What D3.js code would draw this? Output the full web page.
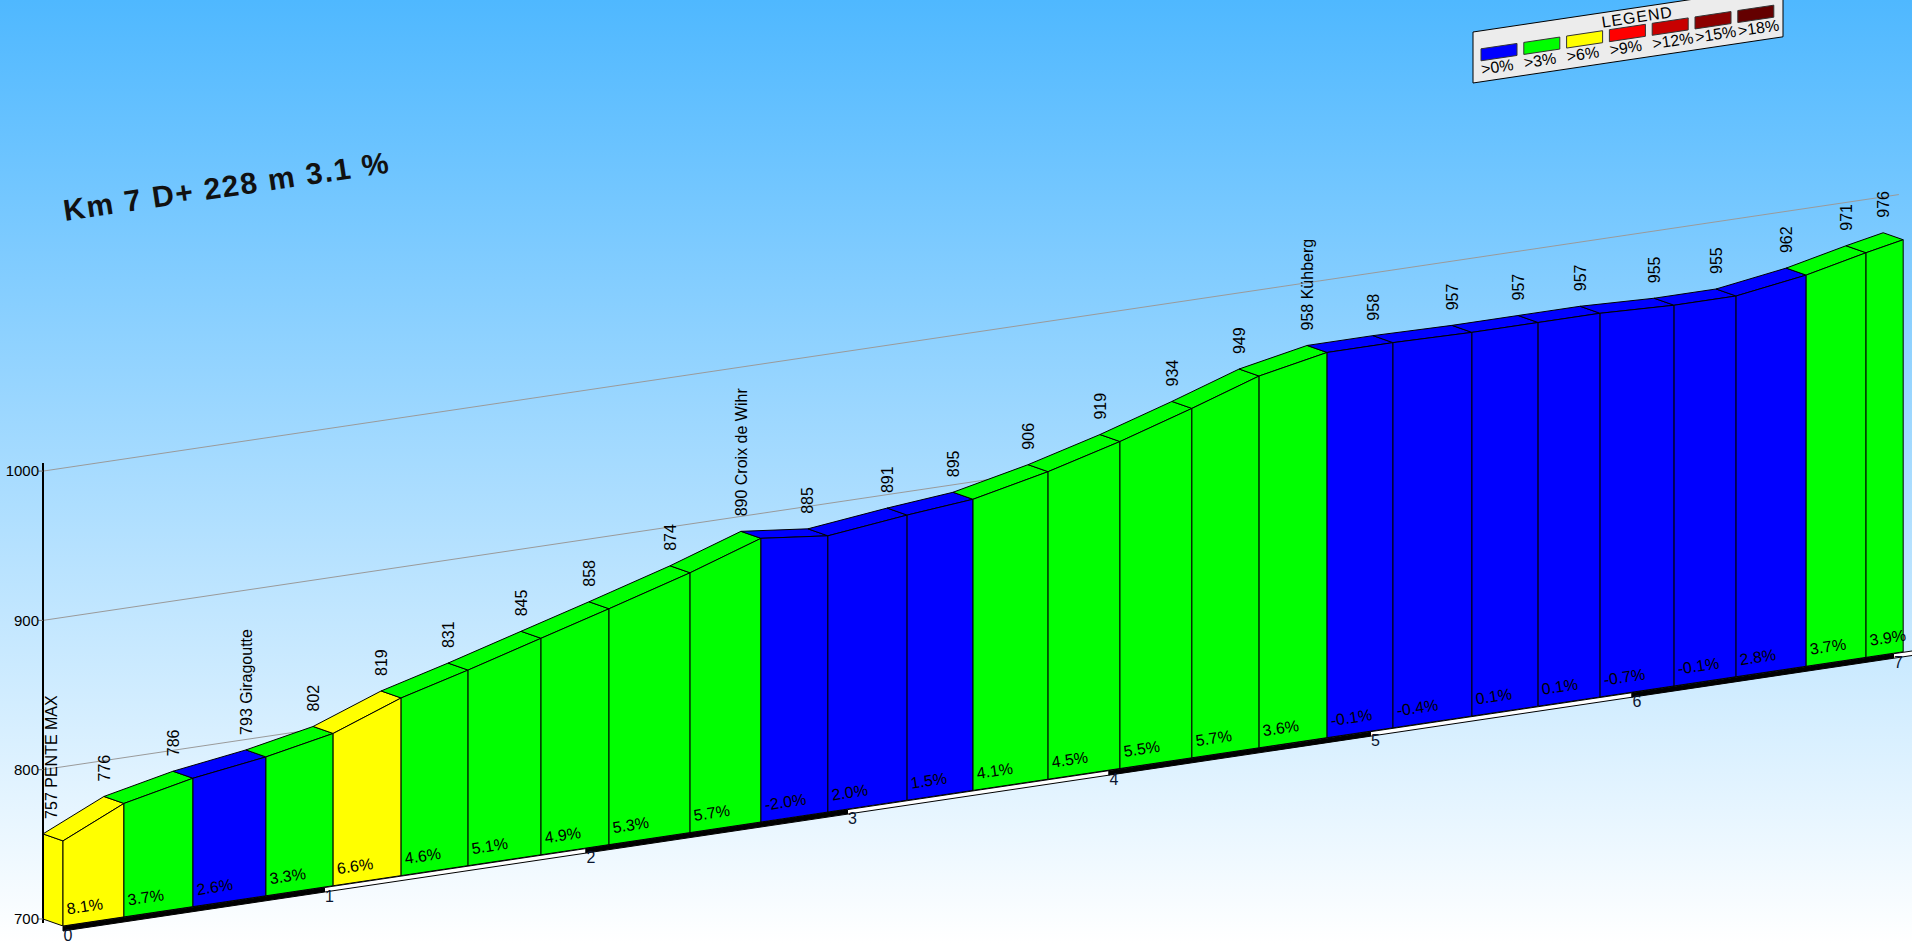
<!DOCTYPE html>
<html>
<head>
<meta charset="utf-8">
<script src="https://d3js.org/d3.v7.min.js"></script>
<style>
  html, body { margin: 0; padding: 0; overflow: hidden; }
  svg { display: block; font-family: "Liberation Sans", Arial, sans-serif; }
</style>
</head>
<body>
<div id="profile"></div>
<script>
// Profile points: distance (km), elevation (m) and place names
var kmPts = [0, 0.233, 0.497, 0.776, 1.033, 1.293, 1.549, 1.828, 2.088, 2.398,
  2.669, 2.925, 3.228, 3.480, 3.767, 4.042, 4.317, 4.574, 4.834, 5.086,
  5.388, 5.641, 5.878, 6.161, 6.398, 6.666, 6.895, 7.037];
var elevations = [757, 776, 786, 793, 802, 819, 831, 845, 858, 874,
  890, 885, 891, 895, 906, 919, 934, 949, 958, 958,
  957, 957, 957, 955, 955, 962, 971, 976];
var pointNames = ["PENTE MAX", "", "", "Giragoutte", "", "", "", "", "", "",
  "Croix de Wihr", "", "", "", "", "", "", "", "Kühberg", "",
  "", "", "", "", "", "", "", ""];
// grade of each segment (%)
var grades = [8.1, 3.7, 2.6, 3.3, 6.6, 4.6, 5.1, 4.9, 5.3, 5.7,
  -2.0, 2.0, 1.5, 4.1, 4.5, 5.5, 5.7, 3.6, -0.1, -0.4,
  0.1, 0.1, -0.7, -0.1, 2.8, 3.7, 3.9];

var elevTicks = [700, 800, 900, 1000];
var gridLevels = [800, 900, 1000];
var kmTicks = [0, 1, 2, 3, 4, 5, 6, 7];

var legendLabels = [">0%", ">3%", ">6%", ">9%", ">12%", ">15%", ">18%"];
var gradeBreaks = [3, 6, 9, 12, 15, 18];
var gradeColors = ["#0000ff", "#00ff00", "#ffff00", "#ff0000", "#c80000", "#8c0000", "#640000"];

var titleText = "Km 7 D+ 228 m 3.1 %";

var width = 1912, height = 943;

// oblique projection: distance goes right and up, depth shifts back plane
var x = d3.scaleLinear().domain([0, 7]).range([63, 1893.5]);
var y = d3.scaleLinear().domain([700, 1000]).range([926, 478.1]);
var slope = 0.149;
var depthX = -20, depthY = -7;
var angle = -Math.atan(slope) * 180 / Math.PI;

function pt(d, h, back) {
  var sx = x(d), sy = y(h) - (sx - x(0)) * slope;
  return back ? [sx + depthX, sy + depthY] : [sx, sy];
}

var color = d3.scaleThreshold().domain(gradeBreaks).range(gradeColors);

var svg = d3.select("#profile").append("svg")
  .attr("width", width)
  .attr("height", height);

// sky background
var grad = svg.append("defs").append("linearGradient")
  .attr("id", "sky").attr("x1", 0).attr("y1", 0).attr("x2", 0).attr("y2", 1);
grad.append("stop").attr("offset", "0%").attr("stop-color", "#4fb8ff");
grad.append("stop").attr("offset", "100%").attr("stop-color", "#ffffff");
svg.append("rect").attr("width", width).attr("height", height).attr("fill", "url(#sky)");

// grid lines on the back plane
var gridEnd = d3.max(kmPts) + 0.06;
svg.selectAll(".grid")
  .data(gridLevels)
  .enter().append("line")
  .attr("class", "grid")
  .attr("x1", function(h) { return pt(0, h, true)[0]; })
  .attr("y1", function(h) { return pt(0, h, true)[1]; })
  .attr("x2", function(h) { return pt(gridEnd, h, true)[0]; })
  .attr("y2", function(h) { return pt(gridEnd, h, true)[1]; })
  .attr("stroke", "#9a9a9a")
  .attr("stroke-width", 1);

var segs = d3.range(grades.length);
var poly = function(pts) { return pts.map(function(p) { return p.join(","); }).join(" "); };

// left side face
svg.append("polygon")
  .attr("points", poly([pt(0, elevations[0], true), pt(0, elevations[0]),
    pt(0, 700), pt(0, 700, true)]))
  .attr("fill", color(grades[0]))
  .attr("stroke", "#000").attr("stroke-width", 1);

var seg = svg.selectAll(".seg")
  .data(segs)
  .enter().append("g")
  .attr("class", "seg");

// top face
seg.append("polygon")
  .attr("points", function(i) {
    return poly([pt(kmPts[i], elevations[i], true), pt(kmPts[i + 1], elevations[i + 1], true),
      pt(kmPts[i + 1], elevations[i + 1]), pt(kmPts[i], elevations[i])]);
  })
  .attr("fill", function(i) { return color(grades[i]); })
  .attr("stroke", "#000").attr("stroke-width", 1).attr("stroke-linejoin", "round");

// front face
seg.append("polygon")
  .attr("points", function(i) {
    return poly([pt(kmPts[i], elevations[i]), pt(kmPts[i + 1], elevations[i + 1]),
      pt(kmPts[i + 1], 700), pt(kmPts[i], 700)]);
  })
  .attr("fill", function(i) { return color(grades[i]); })
  .attr("stroke", "#000").attr("stroke-width", 1);

// km bar under the profile, alternating black / white
svg.selectAll(".kmbar")
  .data(kmTicks)
  .enter().append("polygon")
  .attr("class", "kmbar")
  .attr("points", function(k) {
    var a = pt(k, 700), b = pt(k + 1, 700);
    return poly([[a[0], a[1] + 0.5], [b[0], b[1] + 0.5], [b[0], b[1] + 5], [a[0], a[1] + 5]]);
  })
  .attr("fill", function(k) { return k % 2 ? "#fff" : "#000"; })
  .attr("stroke", "#000").attr("stroke-width", 1);

svg.selectAll(".kmlabel")
  .data(kmTicks)
  .enter().append("text")
  .attr("class", "kmlabel")
  .attr("x", function(k) { return pt(k, 700)[0] + 5; })
  .attr("y", function(k) { return pt(k, 700)[1] + 14.5; })
  .attr("text-anchor", "middle")
  .attr("font-size", 16)
  .attr("fill", "#0a1530")
  .text(function(k) { return k; });

// grade labels on the front faces
svg.selectAll(".grade")
  .data(segs)
  .enter().append("text")
  .attr("class", "grade")
  .attr("transform", function(i) {
    var p = pt(kmPts[i], 700);
    return "translate(" + (p[0] + 4.5) + "," + (p[1] - 11.5) + ") rotate(" + angle + ")";
  })
  .attr("font-size", 16)
  .attr("fill", "#000")
  .text(function(i) { return grades[i].toFixed(1) + "%"; });

// vertical elevation axis on the back plane
var axisX = pt(0, 700, true)[0];
svg.append("line")
  .attr("x1", axisX).attr("x2", axisX)
  .attr("y1", pt(0, 1000, true)[1] - 8)
  .attr("y2", pt(0, 700, true)[1] + 4)
  .attr("stroke", "#000").attr("stroke-width", 2);

svg.selectAll(".etick")
  .data(elevTicks)
  .enter().append("line")
  .attr("class", "etick")
  .attr("x1", axisX - 5).attr("x2", axisX)
  .attr("y1", function(h) { return pt(0, h, true)[1]; })
  .attr("y2", function(h) { return pt(0, h, true)[1]; })
  .attr("stroke", "#777");

svg.selectAll(".elabel")
  .data(elevTicks)
  .enter().append("text")
  .attr("class", "elabel")
  .attr("x", axisX - 4)
  .attr("y", function(h) { return pt(0, h, true)[1]; })
  .attr("dy", "0.35em")
  .attr("text-anchor", "end")
  .attr("font-size", 15)
  .text(function(h) { return h; });

// vertical elevation / place labels above each point
svg.selectAll(".plabel")
  .data(d3.range(elevations.length))
  .enter().append("text")
  .attr("class", "plabel")
  .attr("transform", function(i) {
    var p = pt(kmPts[i], elevations[i], true);
    return "translate(" + Math.max(p[0], axisX + 8) + "," + (p[1] - 15) + ") rotate(-90)";
  })
  .attr("dy", "0.35em")
  .attr("font-size", 16)
  .text(function(i) { return elevations[i] + (pointNames[i] ? " " + pointNames[i] : ""); });

// title
svg.append("text")
  .attr("transform", "translate(65,221) rotate(" + angle + ")")
  .attr("font-size", 30)
  .attr("font-weight", "bold")
  .attr("letter-spacing", 1.6)
  .attr("fill", "#111")
  .text(titleText);

// legend box, drawn in the same slanted plane
var lg = { x: 1473, y: 83, w: 310, h: 51 };
function lpt(dx, dy) { return [lg.x + dx, lg.y - dx * slope - dy]; }
svg.append("polygon")
  .attr("points", poly([lpt(0, 0), lpt(lg.w, 0), lpt(lg.w, lg.h), lpt(0, lg.h)]))
  .attr("fill", "#ececec")
  .attr("stroke", "#000").attr("stroke-width", 1);

var lp = lpt(165, 36);
svg.append("text")
  .attr("transform", "translate(" + lp[0] + "," + lp[1] + ") rotate(" + angle + ")")
  .attr("text-anchor", "middle")
  .attr("font-size", 16)
  .attr("letter-spacing", 1)
  .text("LEGEND");

var items = svg.selectAll(".litem")
  .data(legendLabels)
  .enter().append("g")
  .attr("class", "litem");

items.append("polygon")
  .attr("points", function(d, i) {
    var x0 = 8 + i * 42.8;
    return poly([lpt(x0, 21), lpt(x0 + 36, 21), lpt(x0 + 36, 33), lpt(x0, 33)]);
  })
  .attr("fill", function(d, i) { return gradeColors[i]; })
  .attr("stroke", "#333").attr("stroke-width", 1);

items.append("text")
  .attr("transform", function(d, i) {
    var p = lpt(9 + i * 42.8, 7);
    return "translate(" + p[0] + "," + p[1] + ") rotate(" + angle + ")";
  })
  .attr("font-size", 16)
  .text(function(d) { return d; });
</script>
</body>
</html>
